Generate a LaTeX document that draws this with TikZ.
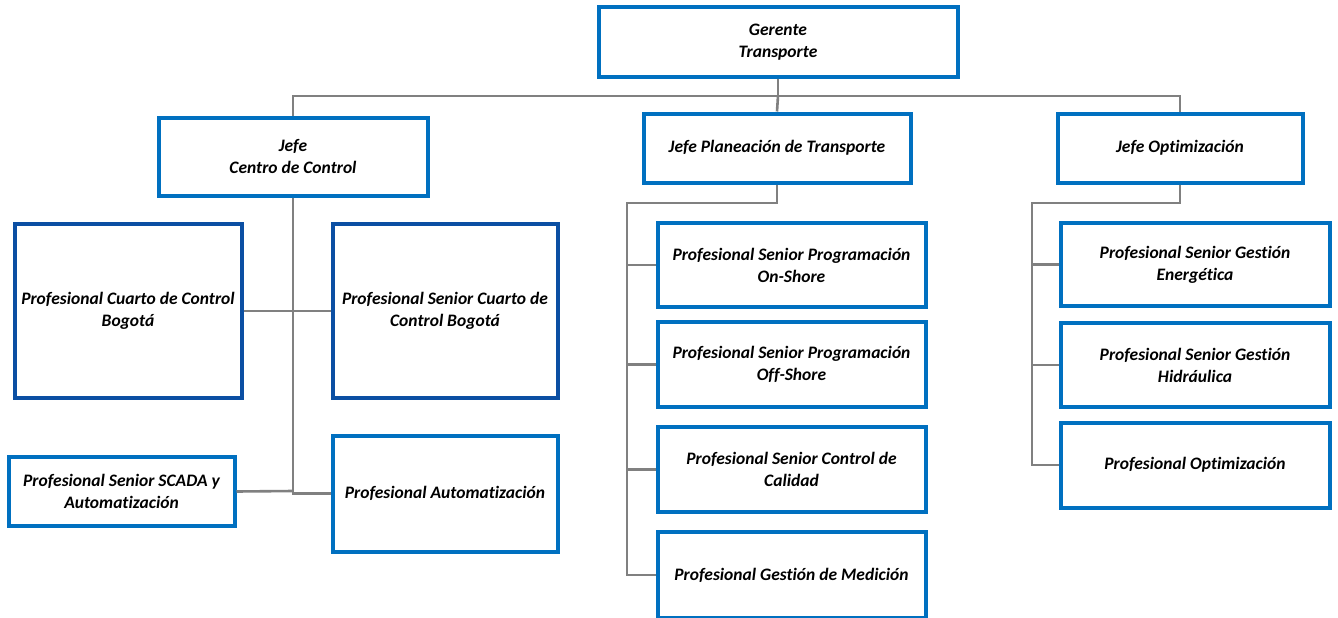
\documentclass[tikz,border=0pt]{standalone}
\usepackage{fontspec}
\setmainfont{Carlito}[Ligatures=NoCommon]
\usepackage{xcolor}
\definecolor{cajaazul}{HTML}{0070C0}
\definecolor{cajaoscura}{HTML}{0B4FA3}
\definecolor{lineagris}{HTML}{808080}
\tikzset{
  cargo/.style={draw=cajaazul,line width=4pt,fill=white,align=center,inner sep=2pt,
    font=\fontsize{17.5}{22}\selectfont\bfseries\itshape},
  cargoosc/.style={cargo,draw=cajaoscura},
  enlace/.style={draw=lineagris,line width=2.6pt}
}

\begin{document}
\begin{tikzpicture}[x=1pt,y=-1pt]
				\useasboundingbox (0,0) rectangle (1338,618);
				% primer nivel
				\node(ger) at (778,42)[cargo,minimum width=359pt,minimum height=69pt]{Gerente\\Transporte};
				\node(jcc) at (293,156.5)[cargo,minimum width=269pt,minimum height=78pt]{Jefe\\Centro de Control};
				\node(jpt) at (777,148)[cargo,minimum width=267pt,minimum height=69pt]{Jefe Planeación de Transporte};
				\node(jop) at (1180,148)[cargo,minimum width=245pt,minimum height=69pt]{Jefe Optimización};
				% centro de control
				\node(pcc) at (128,311)[cargoosc,minimum width=227pt,minimum height=174pt]{Profesional Cuarto de Control\\Bogotá};
				\node(pscc) at (445,311)[cargoosc,minimum width=225pt,minimum height=174pt]{Profesional Senior Cuarto de\\Control Bogotá};
				\node(psca) at (121.5,491.5)[cargo,minimum width=226pt,minimum height=69pt]{Profesional Senior SCADA y\\Automatización};
				\node(paut) at (445,493.5)[cargo,minimum width=225pt,minimum height=116pt]{Profesional Automatización};
				% planeacion
				\node(pon) at (791.5,265)[cargo,minimum width=268pt,minimum height=84pt]{Profesional Senior Programación\\On-Shore};
				\node(poff) at (791.5,364.5)[cargo,minimum width=268pt,minimum height=85pt]{Profesional Senior Programación\\Off-Shore};
				\node(pcal) at (791.5,469.5)[cargo,minimum width=268pt,minimum height=85pt]{Profesional Senior Control de\\Calidad};
				\node(pmed) at (791.5,575)[cargo,minimum width=268pt,minimum height=86pt]{Profesional Gestión de Medición};
				% optimizacion
				\node(pene) at (1195,264.5)[cargo,minimum width=269pt,minimum height=83pt]{Profesional Senior Gestión\\Energética};
				\node(phid) at (1195,365)[cargo,minimum width=269pt,minimum height=84pt]{Profesional Senior Gestión\\Hidráulica};
				\node(popt) at (1195,465)[cargo,minimum width=269pt,minimum height=85pt]{Profesional Optimización};
				% puntos de quiebre
				\coordinate(bus) at (778,96);
				\coordinate(ccpie) at (293,491);
				\coordinate(ptq) at (777,203);
				\coordinate(opq) at (1180,203);
				% conexiones
				\begin{scope}[on background layer/.try]
				\draw[enlace] (ger.south) -- (bus);
				\draw[enlace] (jcc.north) |- (bus) -| (jop.north);
				\draw[enlace] (bus) -- (jpt.north);
				\draw[enlace] (jcc.south) -- (ccpie);
				\draw[enlace] (pcc.east) -- (pscc.west);
				\draw[enlace] (psca.east) -- (ccpie);
				\draw[enlace] (ccpie) |- (paut.west);
				\draw[enlace] (jpt.south) |- (ptq) -| (627,575) -- (pmed.west);
				\draw[enlace] (627,265) -- (pon.west);
				\draw[enlace] (627,364.5) -- (poff.west);
				\draw[enlace] (627,469.5) -- (pcal.west);
				\draw[enlace] (jop.south) |- (opq) -| (1032,465) -- (popt.west);
				\draw[enlace] (1032,264.5) -- (pene.west);
				\draw[enlace] (1032,365) -- (phid.west);
				\end{scope}
			\end{tikzpicture}
\end{document}
